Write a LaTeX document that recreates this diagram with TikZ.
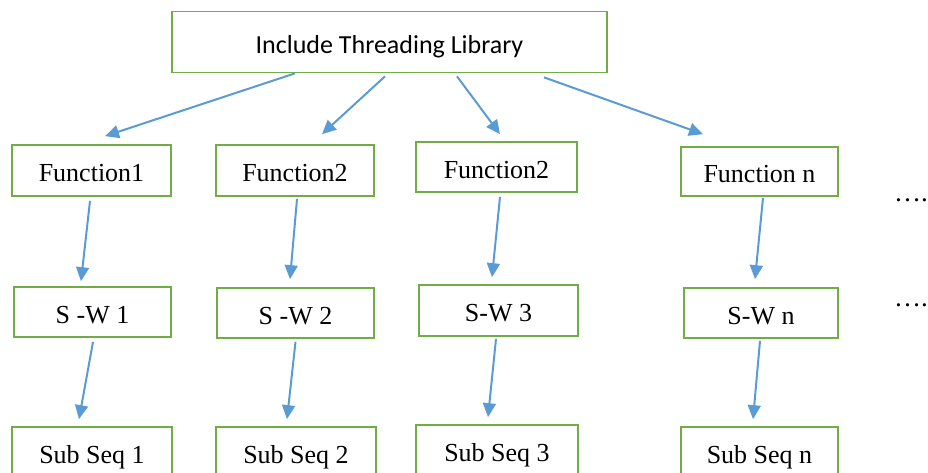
\documentclass[tikz,border=0pt]{standalone}
\usepackage{fontspec}
\setmainfont{Liberation Serif}
\newfontfamily\calibri{Carlito}
\usepackage{xcolor}
\usepackage{tikz}
\usetikzlibrary{arrows.meta}

\definecolor{boxgreen}{HTML}{70AD47}
\definecolor{arrowblue}{HTML}{5B9BD5}

\begin{document}
\begin{tikzpicture}[x=1pt,y=-1pt,
  box/.style={draw=boxgreen,line width=1.7pt,fill=white,inner sep=0pt,
    text height=23pt,text depth=1pt,font=\fontsize{26}{30}\selectfont},
  link/.style={arrowblue,line width=2pt,-{Triangle[length=14pt,width=13pt]}}]

\useasboundingbox (0,0) rectangle (928,472);

\node[box,minimum width=435pt,minimum height=61pt,font=\calibri\fontsize{26}{30}\selectfont] (lib) at (389.5,42) {Include Threading Library};

\node[box,minimum width=159pt,minimum height=51pt] (fun1) at (91.5,170.5) {Function1};
\node[box,minimum width=158pt,minimum height=51pt] (fun2) at (295,170.5) {Function2};
\node[box,minimum width=161pt,minimum height=50pt] (fun3) at (496.5,167) {Function2};
\node[box,minimum width=157pt,minimum height=49pt] (funn) at (759.5,171.5) {Function n};

\node[box,minimum width=157pt,minimum height=50pt] (sw1) at (92.5,312) {S -W 1};
\node[box,minimum width=157pt,minimum height=50pt] (sw2) at (295.5,313) {S -W 2};
\node[box,minimum width=159pt,minimum height=51pt] (sw3) at (498.5,310.5) {S-W 3};
\node[box,minimum width=154pt,minimum height=50pt] (swn) at (761,313) {S-W n};

\node[box,minimum width=160pt,minimum height=50pt] (sub1) at (92,452) {Sub Seq 1};
\node[box,minimum width=160pt,minimum height=50pt] (sub2) at (296,452) {Sub Seq 2};
\node[box,minimum width=162pt,minimum height=50pt] (sub3) at (497,450) {Sub Seq 3};
\node[box,minimum width=157pt,minimum height=50pt] (subn) at (759.5,452) {Sub Seq n};

\node[anchor=base west,font=\fontsize{27}{30}\selectfont,inner sep=0pt] (more1) at (894,201) {….};
\node[anchor=base west,font=\fontsize{27}{30}\selectfont,inner sep=0pt] (more2) at (894,306) {….};

\draw[link] ([xshift=-94.5pt]lib.south) -- ([xshift=13.5pt,yshift=8pt]fun1.north);
\draw[link] ([xshift=-4.5pt,yshift=-3pt]lib.south) -- ([xshift=27pt,yshift=10pt]fun2.north);
\draw[link] ([xshift=67.5pt,yshift=-3pt]lib.south) -- ([xshift=3.5pt,yshift=7pt]fun3.north);
\draw[link] ([xshift=154.5pt,yshift=-4pt]lib.south) -- ([xshift=-56.5pt,yshift=12pt]funn.north);

\draw[link] ([xshift=-1.5pt,yshift=-4pt]fun1.south) -- ([xshift=-11.5pt,yshift=5pt]sw1.north);
\draw[link] ([xshift=2pt,yshift=-2pt]fun2.south) -- ([xshift=-5.5pt,yshift=8pt]sw2.north);
\draw[link] ([xshift=3.5pt,yshift=-4pt]fun3.south) -- ([xshift=-6.5pt,yshift=7pt]sw3.north);
\draw[link] ([xshift=3.5pt,yshift=-1pt]funn.south) -- ([xshift=-6pt,yshift=8pt]swn.north);

\draw[link] ([xshift=0.5pt,yshift=-4pt]sw1.south) -- ([xshift=-13pt,yshift=7pt]sub1.north);
\draw[link] ([yshift=-3pt]sw2.south) -- ([xshift=-9pt,yshift=7pt]sub2.north);
\draw[link] ([xshift=-2.5pt,yshift=-2pt]sw3.south) -- ([xshift=-9pt,yshift=7pt]sub3.north);
\draw[link] ([xshift=-1pt,yshift=-2pt]swn.south) -- ([xshift=-6.5pt,yshift=7pt]subn.north);

\end{tikzpicture}
\end{document}
